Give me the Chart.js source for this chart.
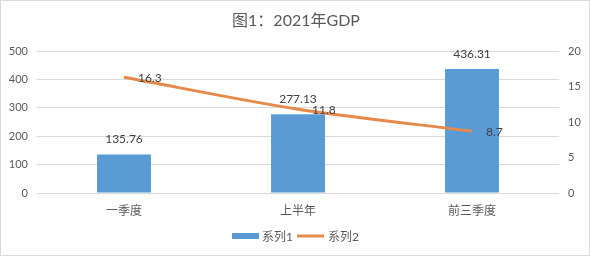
<!DOCTYPE html>
<html>
<head>
<meta charset="utf-8">
<script src="https://cdn.jsdelivr.net/npm/chart.js@4"></script>
<style>
html,body{margin:0;padding:0;background:#fff;}
#wrap{width:590px;height:256px;position:relative;}
</style>
</head>
<body>
<div id="wrap"><canvas id="c" width="590" height="256"></canvas></div>
<script>
const categories = ['一季度', '上半年', '前三季度'];
const series1 = [135.76, 277.13, 436.31];
const series2 = [16.3, 11.8, 8.7];
const series1Name = '系列1';
const series2Name = '系列2';
const titleText = '图1：2021年GDP';
const leftTicks = {min: 0, max: 500, step: 100};
const rightTicks = {min: 0, max: 20, step: 5};

const FONT = "Lato, 'Noto Sans CJK SC', sans-serif";
const BLUE = '#5B9BD5';
const ORANGE = '#E7894A';
const TXT = '#595959';

const decor = {
  id: 'decor',
  beforeDraw(chart) {
    const ctx = chart.ctx;
    ctx.save();
    ctx.fillStyle = '#fff';
    ctx.fillRect(0, 0, chart.width, chart.height);
    ctx.restore();
  },
  afterDraw(chart) {
    const ctx = chart.ctx;
    ctx.save();
    ctx.strokeStyle = '#D9D9D9';
    ctx.lineWidth = 1;
    ctx.strokeRect(0.5, 0.5, chart.width - 1, chart.height - 1);
    ctx.fillStyle = TXT;
    ctx.font = "16px " + FONT;
    ctx.textAlign = 'center';
    ctx.textBaseline = 'middle';
    ctx.fillText(titleText, 296, 21);
    ctx.fillStyle = '#404040';
    ctx.font = "12px " + FONT;
    const m0 = chart.getDatasetMeta(0);
    m0.data.forEach((el, i) => {
      ctx.textAlign = 'center';
      ctx.fillText(String(series1[i]), el.x, el.y - 15);
    });
    const m1 = chart.getDatasetMeta(1);
    m1.data.forEach((el, i) => {
      ctx.textAlign = 'left';
      ctx.fillText(String(series2[i]), el.x + 14, el.y + 1);
    });
    ctx.fillStyle = BLUE;
    ctx.fillRect(232, 233, 27, 6);
    ctx.fillStyle = TXT;
    ctx.textAlign = 'left';
    ctx.font = "12px " + FONT;
    ctx.fillText(series1Name, 262, 237);
    ctx.strokeStyle = ORANGE;
    ctx.lineWidth = 3;
    ctx.beginPath();
    ctx.moveTo(297, 236);
    ctx.lineTo(324, 236);
    ctx.stroke();
    ctx.fillText(series2Name, 328, 237);
    ctx.restore();
  }
};

new Chart(document.getElementById('c'), {
  data: {
    labels: categories,
    datasets: [
      {
        type: 'bar',
        label: series1Name,
        data: series1,
        backgroundColor: BLUE,
        yAxisID: 'y',
        barPercentage: 0.31,
        categoryPercentage: 1,
        order: 2
      },
      {
        type: 'line',
        label: series2Name,
        data: series2,
        borderColor: ORANGE,
        borderWidth: 3,
        pointRadius: 0,
        tension: 0.3,
        yAxisID: 'y1',
        order: 1
      }
    ]
  },
  options: {
    responsive: false,
    animation: false,
    devicePixelRatio: 1,
    layout: {padding: {top: 51, bottom: 0, left: 0, right: 0}},
    plugins: {legend: {display: false}, title: {display: false}, tooltip: {enabled: false}},
    scales: {
      x: {
        grid: {display: false, drawTicks: false},
        border: {display: false},
        ticks: {color: TXT, font: {family: FONT, size: 12}, padding: 11},
        afterFit(s) { s.height = 63; }
      },
      y: {
        position: 'left',
        min: leftTicks.min, max: leftTicks.max,
        ticks: {stepSize: leftTicks.step, color: TXT, font: {family: FONT, size: 11}, padding: 9},
        grid: {color: '#D9D9D9', drawTicks: false},
        border: {display: false},
        afterFit(s) { s.width = 37; }
      },
      y1: {
        position: 'right',
        min: rightTicks.min, max: rightTicks.max,
        ticks: {stepSize: rightTicks.step, color: TXT, font: {family: FONT, size: 11}, padding: 9},
        grid: {display: false, drawTicks: false},
        border: {display: false},
        afterFit(s) { s.width = 31; }
      }
    }
  },
  plugins: [decor]
});
</script>
</body>
</html>
